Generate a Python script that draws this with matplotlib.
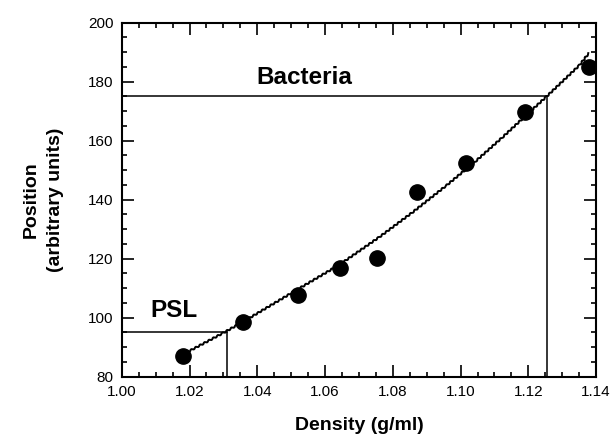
import matplotlib
matplotlib.use("Agg")
import matplotlib.pyplot as plt
from matplotlib.ticker import MultipleLocator, FormatStrFormatter

plt.rcParams['font.family'] = ['Liberation Sans', 'DejaVu Sans']

# measured points
density = [1.0182, 1.0358, 1.0520, 1.0643, 1.0754, 1.0872, 1.1017, 1.1189, 1.1380]
position = [87.1, 98.4, 107.7, 116.7, 120.3, 142.5, 152.3, 169.8, 184.9]

# calibration curve
curve_x = [1.0196, 1.0299, 1.0368, 1.0516, 1.0643, 1.0761, 1.0859, 1.0958, 1.1046,
           1.1125, 1.1184, 1.1253, 1.1351, 1.1378]
curve_y = [88.5, 94.8, 99.3, 109.4, 118.0, 127.4, 135.8, 144.8, 153.2,
           161.3, 167.6, 174.9, 185.6, 189.6]

# reference markers
psl_density, psl_position = 1.031, 95
bac_density, bac_position = 1.1255, 175

fig = plt.figure(figsize=(6.12, 4.37), dpi=100)
ax = fig.add_axes([0.199, 0.138, 0.775, 0.810])

line, = ax.plot(curve_x, curve_y, color='black', lw=1.4, zorder=2)
line.set_sketch_params(scale=0.8, length=5, randomness=1)
ax.plot(density, position, 'o', color='black', ms=11, zorder=3)

ax.plot([1.00, psl_density], [psl_position, psl_position], color='black', lw=1.1)
ax.plot([psl_density, psl_density], [80, psl_position], color='black', lw=1.1)
ax.plot([1.00, bac_density], [bac_position, bac_position], color='black', lw=1.1)
ax.plot([bac_density, bac_density], [80, bac_position], color='black', lw=1.1)

ax.text(1.054, 181.3, 'Bacteria', ha='center', va='center', fontsize=17.5, fontweight='bold')
ax.text(1.0153, 102.6, 'PSL', ha='center', va='center', fontsize=17.5, fontweight='bold')

ax.set_xlim(1.00, 1.14)
ax.set_ylim(80, 200)
ax.xaxis.set_major_locator(MultipleLocator(0.02))
ax.xaxis.set_minor_locator(MultipleLocator(0.005))
ax.yaxis.set_major_locator(MultipleLocator(20))
ax.yaxis.set_minor_locator(MultipleLocator(5))
ax.xaxis.set_major_formatter(FormatStrFormatter('%.2f'))

ax.tick_params(which='both', direction='in', top=True, right=True, labelsize=11, width=1.2)
ax.tick_params(which='major', length=8.5, pad=6)
ax.tick_params(which='minor', length=3.5)
for s in ax.spines.values():
    s.set_linewidth(1.5)

ax.set_xlabel('Density (g/ml)', fontsize=14, fontweight='bold', labelpad=13)
ax.set_ylabel('Position\n(arbitrary units)', fontsize=14, fontweight='bold',
              labelpad=17, linespacing=1.6)

fig.savefig('out.png', dpi=100)
